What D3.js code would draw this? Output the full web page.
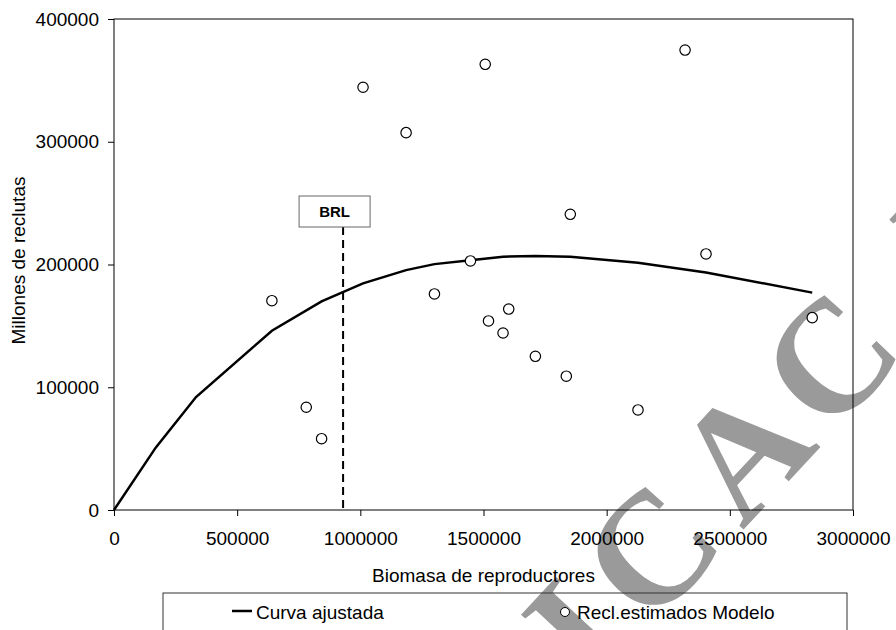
<!DOCTYPE html>
<html lang="es">
<head>
    <meta charset="UTF-8">
    <title>Biomasa de reproductores vs reclutas</title>
    <script src="https://cdn.jsdelivr.net/npm/d3@7"></script>
    <style>
        html, body { margin: 0; padding: 0; background: #ffffff; }
        svg text { font-family: "Liberation Sans", Arial, sans-serif; fill: #000; }
    </style>
</head>
<body>
    <div id="chart"></div>
    <script>
        // data
        const xTicks = [0, 500000, 1000000, 1500000, 2000000, 2500000, 3000000];
        const yTicks = [0, 100000, 200000, 300000, 400000];

        // recruits estimated by the model (circles)
        const spawnBiomass = [641000, 780500, 842700, 1011000, 1185800, 1300800, 1447000, 1507000, 1520300,
            1579300, 1602400, 1710600, 1836200, 1852400, 2127200, 2318300, 2403300, 2834500];
        const recruits = [170500, 83700, 58100, 344400, 307400, 176000, 202900, 363100, 154000,
            144200, 163700, 125200, 109000, 240900, 81500, 374700, 208600, 156700];

        // fitted curve (vertices of the drawn line)
        const curveSpawn = [0, 170000, 333000, 641000, 842700, 1011000, 1185800, 1300800, 1447000,
            1579300, 1710600, 1852400, 2127200, 2403300, 2834500];
        const curveRecruits = [0, 51000, 92000, 146000, 170000, 184600, 195400, 200300, 203500,
            206400, 207000, 206300, 201400, 193500, 177100];

        const brl = 930000;

        const width = 896, height = 630;
        const plotLeft = 114, plotRight = 853, plotTop = 19, plotBottom = 510;
        const fontSize = 19;

        const svg = d3.select('#chart').append('svg')
            .attr('width', width)
            .attr('height', height);

        const x = d3.scaleLinear().domain([0, 3000000]).range([plotLeft, plotRight]);
        const y = d3.scaleLinear().domain([0, 400000]).range([plotBottom, plotTop]);

        // watermark behind everything
        svg.append('text')
            .attr('transform', 'translate(594,690) rotate(-47)')
            .style('font-family', '"Liberation Serif", "DejaVu Serif", serif')
            .attr('font-size', 160)
            .attr('font-weight', 'bold')
            .attr('letter-spacing', 20)
            .attr('word-spacing', -60)
            .style('fill', '#9a9a9a')
            .text('ICA C.I');

        // axes
        const xAxis = svg.append('g')
            .attr('transform', `translate(0,${plotBottom})`)
            .call(d3.axisBottom(x).tickValues(xTicks).tickSize(6).tickSizeOuter(0).tickPadding(15.5).tickFormat(d3.format('d')));
        const yAxis = svg.append('g')
            .attr('transform', `translate(${plotLeft},0)`)
            .call(d3.axisLeft(y).tickValues(yTicks).tickSize(6).tickSizeOuter(0).tickPadding(9).tickFormat(d3.format('d')));

        [xAxis, yAxis].forEach(g => {
            g.attr('font-family', null).attr('font-size', null);
            g.select('.domain').remove();
            g.selectAll('line').attr('stroke', '#000');
            g.selectAll('text').attr('font-size', fontSize);
        });

        // plot frame
        svg.append('rect')
            .attr('x', plotLeft).attr('y', plotTop)
            .attr('width', plotRight - plotLeft).attr('height', plotBottom - plotTop)
            .attr('fill', 'none')
            .attr('stroke', '#000')
            .attr('stroke-width', 1);

        // axis titles
        svg.append('text')
            .attr('x', (plotLeft + plotRight) / 2)
            .attr('y', 582)
            .attr('text-anchor', 'middle')
            .attr('font-size', fontSize)
            .text('Biomasa de reproductores');

        svg.append('text')
            .attr('transform', `translate(25,${(plotTop + plotBottom) / 2 - 4}) rotate(-90)`)
            .attr('text-anchor', 'middle')
            .attr('font-size', fontSize)
            .text('Millones de reclutas');

        // BRL reference
        svg.append('line')
            .attr('x1', x(brl)).attr('x2', x(brl))
            .attr('y1', 227).attr('y2', y(0))
            .attr('stroke', '#000')
            .attr('stroke-width', 2)
            .attr('stroke-dasharray', '8,5');

        svg.append('rect')
            .attr('x', x(brl) - 44).attr('y', 196)
            .attr('width', 71).attr('height', 31)
            .attr('fill', '#fff')
            .attr('stroke', '#666')
            .attr('stroke-width', 1);

        svg.append('text')
            .attr('x', x(brl) - 8.5).attr('y', 217)
            .attr('text-anchor', 'middle')
            .attr('font-size', 15)
            .attr('font-weight', 'bold')
            .text('BRL');

        // fitted curve
        const line = d3.line()
            .x((d, i) => x(curveSpawn[i]))
            .y((d, i) => y(curveRecruits[i]));

        svg.append('path')
            .datum(curveSpawn)
            .attr('d', line)
            .attr('fill', 'none')
            .attr('stroke', '#000')
            .attr('stroke-width', 2.5);

        // estimated recruits
        svg.selectAll('circle.pt')
            .data(spawnBiomass)
            .enter()
            .append('circle')
            .attr('class', 'pt')
            .attr('cx', d => x(d))
            .attr('cy', (d, i) => y(recruits[i]))
            .attr('r', 5.2)
            .attr('fill', '#fff')
            .attr('stroke', '#000')
            .attr('stroke-width', 1.2);

        // legend
        svg.append('rect')
            .attr('x', 163).attr('y', 593)
            .attr('width', 684).attr('height', 60)
            .attr('fill', 'none')
            .attr('stroke', '#333')
            .attr('stroke-width', 1);

        svg.append('line')
            .attr('x1', 232).attr('x2', 252)
            .attr('y1', 611).attr('y2', 611)
            .attr('stroke', '#000')
            .attr('stroke-width', 2.5);

        svg.append('text')
            .attr('x', 256).attr('y', 619)
            .attr('font-size', fontSize)
            .text('Curva ajustada');

        svg.append('circle')
            .attr('cx', 565).attr('cy', 612)
            .attr('r', 4.5)
            .attr('fill', '#fff')
            .attr('stroke', '#000')
            .attr('stroke-width', 1);

        svg.append('text')
            .attr('x', 577).attr('y', 619)
            .attr('font-size', fontSize)
            .text('Recl.estimados Modelo');
    </script>
</body>
</html>
